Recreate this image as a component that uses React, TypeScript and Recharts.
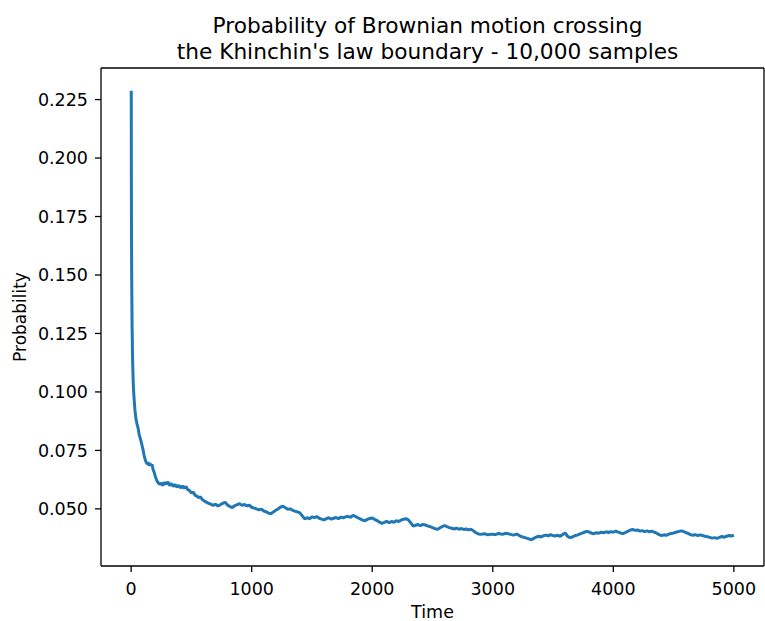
import React from "react";
import { LineChart, Line, XAxis, YAxis, ReferenceLine } from "recharts";

// time steps sampled off the curve (denser at the start where it drops fast)
const times = [
  1, 2, 3, 4, 6, 8, 11, 14, 17, 21, 26, 32, 40, 50, 58, 66, 74, 82, 91, 100,
  108, 116, 124, 132, 140, 148, 156, 165, 174, 182, 190, 200, 212, 224, 236,
  250, 262, 275, 290, 305, 320, 335, 350, 365, 380, 395, 410, 425, 440, 455,
  470, 485, 500, 515, 530, 545, 560, 575, 590, 605, 620, 640, 660, 680, 700,
  720, 740, 760, 780, 800, 820, 840, 860, 880, 900, 920, 940, 960, 980, 1000,
  1020, 1040, 1060, 1080, 1100, 1120, 1140, 1160, 1180, 1200, 1220, 1240, 1260,
  1280, 1300, 1320, 1340, 1360, 1380, 1400, 1420, 1440, 1460, 1480, 1500, 1520,
  1540, 1560, 1580, 1600, 1620, 1640, 1660, 1680, 1700, 1720, 1740, 1760, 1780,
  1800, 1820, 1840, 1860, 1880, 1900, 1920, 1940, 1960, 1980, 2000, 2020, 2040,
  2060, 2080, 2100, 2120, 2140, 2160, 2180, 2200, 2220, 2240, 2260, 2280, 2300,
  2320, 2340, 2360, 2380, 2400, 2420, 2440, 2460, 2480, 2500, 2520, 2540, 2560,
  2580, 2600, 2620, 2640, 2660, 2680, 2700, 2720, 2740, 2760, 2780, 2800, 2820,
  2840, 2860, 2880, 2900, 2930, 2960, 2990, 3020, 3050, 3080, 3110, 3140, 3170,
  3200, 3220, 3240, 3260, 3280, 3300, 3320, 3340, 3360, 3380, 3400, 3420, 3440,
  3460, 3480, 3500, 3520, 3540, 3560, 3580, 3600, 3620, 3640, 3660, 3680, 3700,
  3720, 3740, 3760, 3780, 3800, 3820, 3840, 3860, 3880, 3900, 3920, 3940, 3960,
  3980, 4000, 4020, 4040, 4060, 4080, 4100, 4120, 4140, 4160, 4180, 4200, 4220,
  4240, 4260, 4280, 4300, 4320, 4340, 4360, 4380, 4400, 4420, 4440, 4460, 4480,
  4500, 4520, 4540, 4560, 4580, 4600, 4620, 4640, 4660, 4680, 4700, 4720, 4740,
  4760, 4780, 4800, 4820, 4840, 4860, 4880, 4900, 4920, 4940, 4960, 4980, 5000,
];

const probs = [
  0.2288, 0.19, 0.168, 0.155, 0.14, 0.128, 0.117, 0.11, 0.1045, 0.1, 0.096,
  0.092, 0.0885, 0.086, 0.0845, 0.082, 0.0805, 0.079, 0.077, 0.075, 0.0728,
  0.0712, 0.07, 0.0692, 0.07, 0.0685, 0.0695, 0.0685, 0.069, 0.0668, 0.0658,
  0.064, 0.0622, 0.0612, 0.0605, 0.061, 0.06, 0.0613, 0.0606, 0.0615, 0.06,
  0.0608, 0.0596, 0.0604, 0.0593, 0.0601, 0.059, 0.0598, 0.0588, 0.0596,
  0.0582, 0.0578, 0.0568, 0.0572, 0.0558, 0.0555, 0.0548, 0.0552, 0.054,
  0.0534, 0.053, 0.0524, 0.052, 0.0515, 0.052, 0.0512, 0.0518, 0.0524, 0.0528,
  0.0516, 0.051, 0.0506, 0.0514, 0.0518, 0.0522, 0.0515, 0.0519, 0.0513,
  0.0516, 0.0507, 0.0503, 0.05, 0.0496, 0.0499, 0.0491, 0.0488, 0.0482,
  0.0479, 0.0487, 0.0494, 0.05, 0.0508, 0.0511, 0.0505, 0.0498, 0.05, 0.0494,
  0.049, 0.0487, 0.0483, 0.047, 0.0457, 0.0462, 0.0458, 0.0466, 0.0463,
  0.0467, 0.046, 0.0456, 0.0453, 0.0458, 0.0462, 0.0456, 0.046, 0.0463,
  0.0458, 0.0465, 0.0462, 0.0466, 0.0468, 0.0464, 0.0472, 0.0468, 0.0462,
  0.0457, 0.0452, 0.0449, 0.0455, 0.0459, 0.0461, 0.0455, 0.045, 0.0443,
  0.0438, 0.0442, 0.0447, 0.0441, 0.0446, 0.0443, 0.0449, 0.0446, 0.0452,
  0.0456, 0.0458, 0.0453, 0.044, 0.0426, 0.043, 0.0433, 0.0428, 0.0434,
  0.0431, 0.0427, 0.0424, 0.042, 0.0416, 0.0412, 0.0418, 0.0424, 0.0429,
  0.0424, 0.042, 0.0417, 0.0414, 0.0418, 0.0413, 0.0416, 0.0412, 0.0414,
  0.041, 0.0413, 0.0406, 0.0398, 0.0393, 0.0391, 0.0394, 0.0389, 0.0392,
  0.039, 0.0395, 0.0391, 0.0396, 0.0392, 0.0388, 0.0392, 0.0386, 0.0381,
  0.0378, 0.0375, 0.0372, 0.0368, 0.0374, 0.0379, 0.0383, 0.038, 0.0385,
  0.0388, 0.0385, 0.039, 0.0386, 0.0384, 0.0387, 0.0383, 0.039, 0.0397,
  0.0383, 0.0377, 0.038, 0.0385, 0.0388, 0.0392, 0.0396, 0.04, 0.0404,
  0.0401, 0.0396, 0.0394, 0.0398, 0.0396, 0.04, 0.0398, 0.0402, 0.0399,
  0.0403, 0.04, 0.0405, 0.0401, 0.0397, 0.0394, 0.0399, 0.0404, 0.0409,
  0.0412, 0.0408, 0.041, 0.0405, 0.0407, 0.0403, 0.0406, 0.0402, 0.0405,
  0.04, 0.0396, 0.039, 0.0386, 0.0389, 0.0387, 0.0392, 0.0395, 0.0397, 0.04,
  0.0403, 0.0406, 0.0404, 0.0399, 0.0395, 0.039, 0.0387, 0.039, 0.0386,
  0.0389, 0.0386, 0.0383, 0.0381, 0.0378, 0.0375, 0.0377, 0.0374, 0.0378,
  0.0382, 0.0379, 0.0383, 0.0386, 0.0384, 0.0387,
];

const xTicks = [0, 1000, 2000, 3000, 4000, 5000];
const yTicks = [0.05, 0.075, 0.1, 0.125, 0.15, 0.175, 0.2, 0.225];
const xDomain = [-250, 5250];
const yDomain = [0.02558, 0.2385];

const titleLines = [
  "Probability of Brownian motion crossing",
  "the Khinchin's law boundary - 10,000 samples",
];

const data = times.map((t, i) => ({ t, p: probs[i] }));

const FONT = "'DejaVu Sans', sans-serif";

function YLabel(props: any) {
  const vb = props.viewBox || { x: 0, y: 68, width: 101, height: 498 };
  const cx = 20;
  const cy = vb.y + vb.height / 2;
  return (
    <text
      x={cx}
      y={cy}
      transform={`rotate(-90, ${cx}, ${cy})`}
      textAnchor="middle"
      dominantBaseline="central"
      fontSize={17}
      fontFamily={FONT}
      fill="#000"
    >
      Probability
    </text>
  );
}

export default function App() {
  return (
    <div style={{ position: "absolute", left: 0, top: 0, width: 765, height: 621, background: "#fff" }}>
      <div
        style={{
          position: "absolute",
          left: 95,
          width: 665,
          top: 13,
          textAlign: "center",
          fontFamily: FONT,
          fontSize: 21.7,
          lineHeight: "26px",
          color: "#000",
          whiteSpace: "nowrap",
        }}
      >
        {titleLines.map((l) => (
          <div key={l}>{l}</div>
        ))}
      </div>
      <LineChart
        width={765}
        height={621}
        data={data}
        margin={{ top: 68, right: 1, bottom: 0, left: 0 }}
      >
        <XAxis
          dataKey="t"
          type="number"
          domain={xDomain}
          ticks={xTicks}
          allowDataOverflow
          height={55}
          tickSize={6}
          tickMargin={11}
          stroke="#000"
          axisLine={{ stroke: "#000", strokeWidth: 1.3 }}
          tickLine={{ stroke: "#000", strokeWidth: 1.3 }}
          tick={{ fill: "#000", fontSize: 17.5, fontFamily: FONT }}
          label={{ value: "Time", position: "insideBottom", offset: 3, fill: "#000", fontSize: 17.5, fontFamily: FONT }}
        />
        <YAxis
          type="number"
          domain={yDomain}
          ticks={yTicks}
          allowDataOverflow
          width={101}
          tickSize={6}
          tickMargin={7}
          tickFormatter={(v: number) => v.toFixed(3)}
          axisLine={{ stroke: "#000", strokeWidth: 1.3 }}
          tickLine={{ stroke: "#000", strokeWidth: 1.3 }}
          tick={{ fill: "#000", fontSize: 17.5, fontFamily: FONT }}
          label={<YLabel />}
        />
        {/* top and right spines */}
        <ReferenceLine y={yDomain[1]} stroke="#000" strokeWidth={1.3} />
        <ReferenceLine x={xDomain[1]} stroke="#000" strokeWidth={1.3} />
        <Line
          type="linear"
          dataKey="p"
          stroke="#1f77b4"
          strokeWidth={3}
          strokeLinejoin="bevel"
          dot={false}
          isAnimationActive={false}
        />
      </LineChart>
    </div>
  );
}
